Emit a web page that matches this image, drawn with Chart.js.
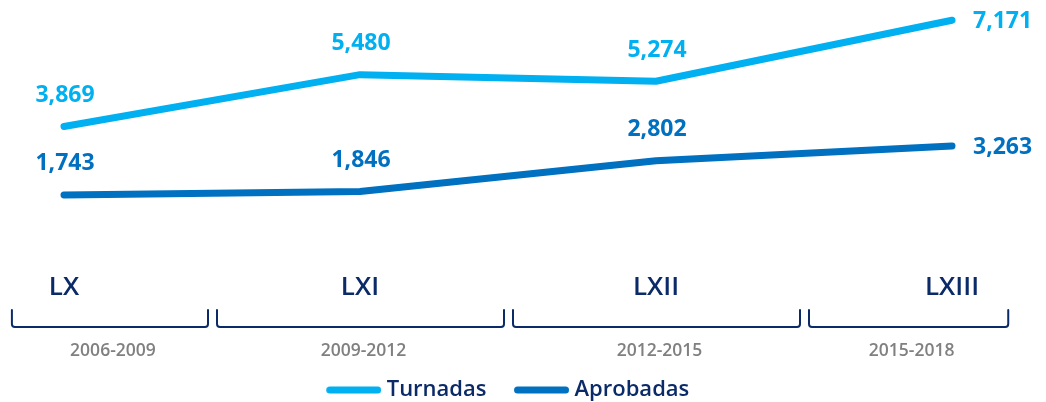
<!DOCTYPE html>
<html>
<head>
<meta charset="utf-8">
<script src="https://cdn.jsdelivr.net/npm/chart.js@4.4.1/dist/chart.umd.min.js"></script>
<style>
  html,body{margin:0;padding:0;background:#fff;}
  #wrap{width:1046px;height:402px;}
</style>
</head>
<body>
<div id="wrap"><canvas id="c" width="1046" height="402"></canvas></div>
<script>
const legislaturas = ['LX', 'LXI', 'LXII', 'LXIII'];
const periodos = ['2006-2009', '2009-2012', '2012-2015', '2015-2018'];
const turnadas = [3869, 5480, 5274, 7171];
const aprobadas = [1743, 1846, 2802, 3263];

const NAVY = '#0b2a68';
const C_TURN = '#00b0f0';
const C_APRO = '#0070c0';
const FONT = '"Open Sans", "DejaVu Sans", sans-serif';

function legendSwatch(color) {
  const cv = document.createElement('canvas');
  cv.width = 60; cv.height = 10;
  const c = cv.getContext('2d');
  c.strokeStyle = color;
  c.lineWidth = 7;
  c.lineCap = 'round';
  c.beginPath();
  c.moveTo(8.5, 5);
  c.lineTo(56.5, 5);
  c.stroke();
  return cv;
}

const decorPlugin = {
  id: 'decor',
  afterDatasetsDraw(chart) {
    const ctx = chart.ctx;
    const area = chart.chartArea;
    // value labels
    chart.data.datasets.forEach((ds, di) => {
      const meta = chart.getDatasetMeta(di);
      const n = meta.data.length;
      meta.data.forEach((pt, i) => {
        ctx.save();
        ctx.font = '700 23px ' + FONT;
        ctx.fillStyle = ds.borderColor;
        ctx.textBaseline = 'middle';
        const txt = ds.data[i].toLocaleString('en-US');
        if (i === n - 1) {
          ctx.textAlign = 'left';
          ctx.fillText(txt, pt.x + 21, pt.y + 1);
        } else {
          ctx.textAlign = 'center';
          ctx.fillText(txt, pt.x + 1, pt.y - 31);
        }
        ctx.restore();
      });
    });
    // brackets and periods
    const xs = chart.scales.x;
    const px = legislaturas.map((_, i) => xs.getPixelForValue(i));
    const step = px[1] - px[0];
    const top = area.bottom + 59, bot = area.bottom + 76, r = 3;
    for (let i = 0; i < px.length; i++) {
      const l = i === 0 ? px[0] - step * 0.176 : (px[i - 1] + px[i]) / 2 + 5;
      const rr = i === px.length - 1 ? px[i] + step * 0.19 : (px[i] + px[i + 1]) / 2 - 4;
      ctx.save();
      ctx.strokeStyle = NAVY;
      ctx.lineWidth = 2;
      ctx.lineCap = 'round';
      ctx.lineJoin = 'round';
      ctx.beginPath();
      ctx.moveTo(l, top);
      ctx.lineTo(l, bot - r);
      ctx.arcTo(l, bot, l + r, bot, r);
      ctx.lineTo(rr - r, bot);
      ctx.arcTo(rr, bot, rr, bot - r, r);
      ctx.lineTo(rr, top);
      ctx.stroke();
      ctx.font = '600 17.5px ' + FONT;
      ctx.fillStyle = '#808080';
      ctx.textAlign = 'center';
      ctx.textBaseline = 'middle';
      ctx.fillText(periodos[i], (l + rr) / 2 + 3, area.bottom + 100);
      ctx.restore();
    }
  }
};

new Chart(document.getElementById('c'), {
  type: 'line',
  data: {
    labels: legislaturas,
    datasets: [
      { label: 'Turnadas', data: turnadas, borderColor: C_TURN, backgroundColor: C_TURN,
        borderWidth: 7, borderCapStyle: 'round', borderJoinStyle: 'round',
        pointRadius: 0, tension: 0, clip: false, pointStyle: legendSwatch(C_TURN) },
      { label: 'Aprobadas', data: aprobadas, borderColor: C_APRO, backgroundColor: C_APRO,
        borderWidth: 7, borderCapStyle: 'round', borderJoinStyle: 'round',
        pointRadius: 0, tension: 0, clip: false, pointStyle: legendSwatch(C_APRO) }
    ]
  },
  options: {
    responsive: false,
    animation: false,
    events: [],
    layout: { padding: { left: 64, right: 94, top: 0, bottom: 0 } },
    scales: {
      x: {
        offset: false,
        grid: { display: false, drawTicks: false },
        border: { display: false },
        ticks: { color: NAVY, font: { family: FONT, size: 26, weight: '600' }, padding: 21, maxRotation: 0, autoSkip: false },
        afterFit(scale) { scale.height = 100; }
      },
      y: { display: false, min: 0, max: 7800 }
    },
    plugins: {
      tooltip: { enabled: false },
      legend: {
        position: 'bottom',
        maxHeight: 51,
        labels: {
          usePointStyle: true,
          pointStyleWidth: 49,
          color: NAVY,
          padding: 28,
          font: { family: FONT, size: 22, weight: '600', lineHeight: 1 }
        }
      }
    }
  },
  plugins: [decorPlugin]
});
</script>
</body>
</html>
